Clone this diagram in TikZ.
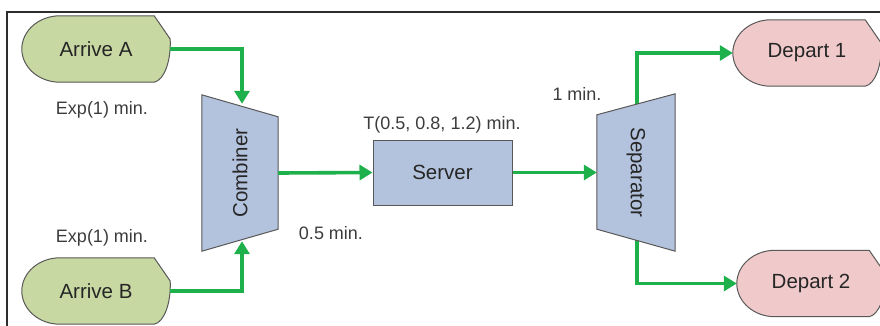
\documentclass[tikz,border=0pt]{standalone}
\usepackage{fontspec}
\setmainfont{Liberation Sans}
\usepackage{graphicx}
\usetikzlibrary{calc,backgrounds,arrows.meta}

\definecolor{flowgreen}{RGB}{30,176,75}
\definecolor{arrivefill}{RGB}{200,216,162}
\definecolor{departfill}{RGB}{240,202,202}
\definecolor{blockfill}{RGB}{180,195,221}
\definecolor{edgegray}{RGB}{88,88,88}
\definecolor{inkgray}{RGB}{38,38,38}
\definecolor{labelgray}{RGB}{60,60,60}
\definecolor{framegray}{RGB}{45,45,45}

% Terminal outline: wide elliptic arc on the left, chamfered round nose on the right
\newcommand\terminaloutline[2]{%
  \draw[outline, fill=#2]
    ($(#1.north west)+(38,0)$) -- ($(#1.north east)+(-16,0)$)
    -- ($(#1.east)+(0,-10)$)
    .. controls ($(#1.east)+(1,12)$) and ($(#1.south east)+(-6,-2)$) .. ($(#1.south east)+(-16,0)$)
    -- ($(#1.south west)+(38,0)$)
    .. controls ($(#1.south west)+(17,0)$) and ($(#1.west)+(0,18.2)$) .. (#1.west)
    .. controls ($(#1.west)+(0,-18.2)$) and ($(#1.north west)+(17,0)$) .. ($(#1.north west)+(38,0)$)
    -- cycle;}

\begin{document}
\begin{tikzpicture}[x=1pt,y=-1pt,
  flow/.style={draw=flowgreen, line width=3.6pt, -{Triangle[length=13pt,width=15pt]}},
  outline/.style={draw=edgegray, line width=1pt},
  terminal/.style={minimum width=148pt, minimum height=66pt, inner sep=0pt,
    font=\fontsize{20.5}{24}\selectfont, text=inkgray},
  block/.style={inner sep=0pt, font=\fontsize{20.5}{24}\selectfont, text=inkgray},
  note/.style={inner sep=0pt, font=\fontsize{18}{21}\selectfont, text=labelgray}]

\useasboundingbox (0,0) rectangle (880,325);
\clip (0,0) rectangle (880,325);

% outer frame
\draw[framegray, line width=1.4pt] (7,12) rectangle (900,345);

% modules
\node[terminal] (arrA) at (96,49) {Arrive A};
\node[terminal] (arrB) at (96,291) {Arrive B};
\node[terminal] (dep1) at (807,53) {Depart 1};
\node[terminal] (dep2) at (811,283.5) {Depart 2};
\node[block, minimum width=76pt, minimum height=156pt] (comb) at (240,173) {\rotatebox{90}{Combiner}};
\node[block, minimum width=78pt, minimum height=157pt] (sep) at (636,172.5) {\rotatebox{-90}{Separator}};
\node[block, draw=edgegray, line width=1pt, fill=blockfill,
      minimum width=139pt, minimum height=65pt] (server) at (442.5,172.5) {Server};

% labels
\node[note] (lblA) at (102,110) {Exp(1) min.};
\node[note] (lblB) at (102,238) {Exp(1) min.};
\node[note] (lblS) at (442,125) {T(0.5, 0.8, 1.2) min.};
\node[note] (lblC) at (331,233) {0.5 min.};
\node[note] (lblP) at (577,94) {1 min.};

% ports on the slanted edges
\coordinate (combA) at ($(comb.north)+(2,9)$);
\coordinate (combB) at ($(comb.south)+(2,-10)$);
\coordinate (sepA) at ($(sep.north)+(1,16)$);
\coordinate (sepB) at ($(sep.south)+(1,-16)$);

\begin{scope}[on background layer]
  % exits of the separator start under its body
  \draw[flow] (sepA) |- (dep1.west);
  \draw[flow] (sepB) |- (dep2.west);
  \terminaloutline{arrA}{arrivefill}
  \terminaloutline{arrB}{arrivefill}
  \terminaloutline{dep1}{departfill}
  \terminaloutline{dep2}{departfill}
  \draw[outline, fill=blockfill] (comb.north west) -- ($(comb.north east)+(0,22)$)
    -- ($(comb.south east)+(0,-22)$) -- (comb.south west) -- cycle;
  \draw[outline, fill=blockfill] ($(sep.north west)+(0,21)$) -- (sep.north east)
    -- (sep.south east) -- ($(sep.south west)+(0,-22)$) -- cycle;
\end{scope}

% connectors
\draw[flow] (arrA.east) -| (combA);
\draw[flow] (arrB.east) -| (combB);
\draw[flow] (comb.east) -- (server.west);
\draw[flow] (server.east) -- (sep.west);

\end{tikzpicture}
\end{document}
